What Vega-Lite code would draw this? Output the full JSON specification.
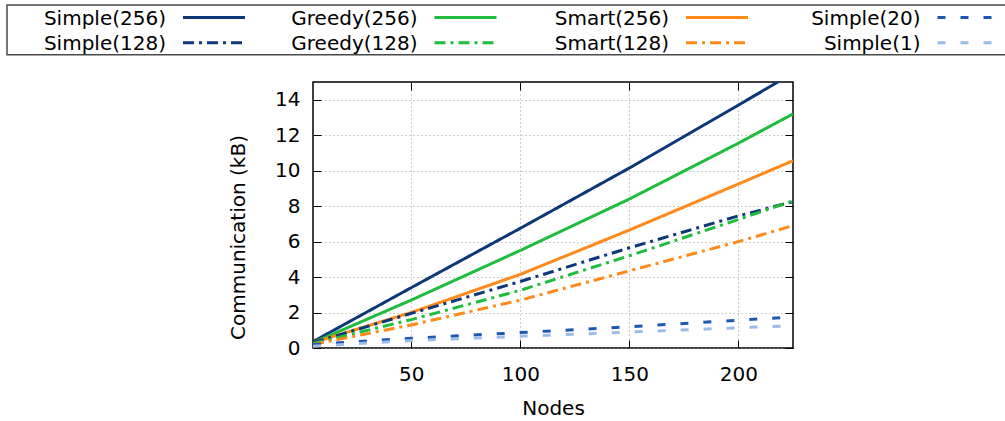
{
  "$schema": "https://vega.github.io/schema/vega-lite/v6.json",
  "width": 480,
  "height": 266,
  "autosize": {"type": "none"},
  "padding": {"left": 313, "top": 82, "right": 212, "bottom": 73},
  "background": "white",
  "config": {
    "font": "DejaVu Sans",
    "view": {"stroke": "black", "strokeWidth": 1.5},
    "axis": {
      "labelFont": "DejaVu Sans", "titleFont": "DejaVu Sans",
      "labelFontSize": 20, "titleFontSize": 20,
      "labelColor": "black", "titleColor": "black", "titleFontWeight": "normal",
      "domain": false, "tickColor": "black", "tickWidth": 1, "tickSize": -8,
      "gridColor": "#a0a0a0", "gridDash": [1, 3], "gridWidth": 1, "gridOpacity": 1
    }
  },
  "datasets": {
    "lines": [
      {"series": "Simple(256)", "nodes": 5, "kb": 0.36},
      {"series": "Simple(256)", "nodes": 50, "kb": 3.4},
      {"series": "Simple(256)", "nodes": 100, "kb": 6.75},
      {"series": "Simple(256)", "nodes": 150, "kb": 10.15},
      {"series": "Simple(256)", "nodes": 200, "kb": 13.7},
      {"series": "Simple(256)", "nodes": 225, "kb": 15.5},
      {"series": "Greedy(256)", "nodes": 5, "kb": 0.3},
      {"series": "Greedy(256)", "nodes": 50, "kb": 2.7},
      {"series": "Greedy(256)", "nodes": 100, "kb": 5.5},
      {"series": "Greedy(256)", "nodes": 150, "kb": 8.4},
      {"series": "Greedy(256)", "nodes": 200, "kb": 11.55},
      {"series": "Greedy(256)", "nodes": 225, "kb": 13.2},
      {"series": "Smart(256)", "nodes": 5, "kb": 0.3},
      {"series": "Smart(256)", "nodes": 50, "kb": 2.0},
      {"series": "Smart(256)", "nodes": 100, "kb": 4.15},
      {"series": "Smart(256)", "nodes": 150, "kb": 6.65},
      {"series": "Smart(256)", "nodes": 200, "kb": 9.25},
      {"series": "Smart(256)", "nodes": 225, "kb": 10.56},
      {"series": "Simple(128)", "nodes": 5, "kb": 0.3},
      {"series": "Simple(128)", "nodes": 50, "kb": 1.95},
      {"series": "Simple(128)", "nodes": 100, "kb": 3.75},
      {"series": "Simple(128)", "nodes": 150, "kb": 5.65},
      {"series": "Simple(128)", "nodes": 200, "kb": 7.45},
      {"series": "Simple(128)", "nodes": 225, "kb": 8.25},
      {"series": "Greedy(128)", "nodes": 5, "kb": 0.25},
      {"series": "Greedy(128)", "nodes": 50, "kb": 1.6},
      {"series": "Greedy(128)", "nodes": 100, "kb": 3.25},
      {"series": "Greedy(128)", "nodes": 150, "kb": 5.2},
      {"series": "Greedy(128)", "nodes": 200, "kb": 7.25},
      {"series": "Greedy(128)", "nodes": 225, "kb": 8.3},
      {"series": "Smart(128)", "nodes": 5, "kb": 0.2},
      {"series": "Smart(128)", "nodes": 50, "kb": 1.3},
      {"series": "Smart(128)", "nodes": 100, "kb": 2.7},
      {"series": "Smart(128)", "nodes": 150, "kb": 4.35},
      {"series": "Smart(128)", "nodes": 200, "kb": 6.0},
      {"series": "Smart(128)", "nodes": 225, "kb": 6.9},
      {"series": "Simple(20)", "nodes": 5, "kb": 0.2},
      {"series": "Simple(20)", "nodes": 50, "kb": 0.55},
      {"series": "Simple(20)", "nodes": 100, "kb": 0.87},
      {"series": "Simple(20)", "nodes": 150, "kb": 1.2},
      {"series": "Simple(20)", "nodes": 200, "kb": 1.57},
      {"series": "Simple(20)", "nodes": 225, "kb": 1.75},
      {"series": "Simple(1)", "nodes": 5, "kb": 0.1},
      {"series": "Simple(1)", "nodes": 50, "kb": 0.42},
      {"series": "Simple(1)", "nodes": 100, "kb": 0.66},
      {"series": "Simple(1)", "nodes": 150, "kb": 0.9},
      {"series": "Simple(1)", "nodes": 200, "kb": 1.14},
      {"series": "Simple(1)", "nodes": 225, "kb": 1.26}
    ],
    "legend": [
      {"series": "Simple(256)", "col": 0, "row": 0},
      {"series": "Greedy(256)", "col": 1, "row": 0},
      {"series": "Smart(256)", "col": 2, "row": 0},
      {"series": "Simple(20)", "col": 3, "row": 0},
      {"series": "Simple(128)", "col": 0, "row": 1},
      {"series": "Greedy(128)", "col": 1, "row": 1},
      {"series": "Smart(128)", "col": 2, "row": 1},
      {"series": "Simple(1)", "col": 3, "row": 1}
    ]
  },
  "layer": [
    {
      "data": {"name": "lines"},
      "mark": {"type": "line", "strokeWidth": 3, "clip": true},
      "encoding": {
        "x": {
          "field": "nodes", "type": "quantitative",
          "scale": {"domain": [5, 225], "nice": false, "zero": false},
          "axis": {"values": [50, 100, 150, 200], "title": "Nodes", "grid": true,
                   "labelPadding": 24, "titleX": 240, "titleY": 66,
                   "titleBaseline": "alphabetic", "titleAlign": "center"}
        },
        "y": {
          "field": "kb", "type": "quantitative",
          "scale": {"domain": [0, 15], "nice": false, "zero": false},
          "axis": {"values": [0, 2, 4, 6, 8, 10, 12, 14], "title": "Communication (kB)", "grid": true,
                   "labelPadding": 21, "titleX": -69, "titleY": 155, "titleAngle": -90,
                   "titleBaseline": "alphabetic", "titleAlign": "center"}
        },
        "color": {
          "field": "series", "type": "nominal", "legend": null,
          "scale": {
            "domain": ["Simple(256)", "Greedy(256)", "Smart(256)", "Simple(20)", "Simple(128)", "Greedy(128)", "Smart(128)", "Simple(1)"],
            "range": ["#0c3779", "#1fbd3c", "#ff8a1a", "#1b58b4", "#0c3779", "#1fbd3c", "#ff8a1a", "#9bbbe8"]
          }
        },
        "strokeDash": {
          "field": "series", "type": "nominal", "legend": null,
          "scale": {
            "domain": ["Simple(256)", "Greedy(256)", "Smart(256)", "Simple(20)", "Simple(128)", "Greedy(128)", "Smart(128)", "Simple(1)"],
            "range": [[1, 0], [1, 0], [1, 0], [8, 15], [11, 5, 3, 5], [11, 5, 3, 5], [11, 5, 3, 5], [8, 15]]
          }
        }
      }
    },
    {
      "data": {"name": "lines"},
      "mark": {"type": "point", "opacity": 0},
      "encoding": {
        "x": {
          "field": "nodes", "type": "quantitative",
          "scale": {"domain": [5, 225], "nice": false, "zero": false},
          "axis": {"orient": "top", "values": [50, 100, 150, 200], "labels": false, "title": null, "grid": false}
        },
        "y": {
          "field": "kb", "type": "quantitative",
          "scale": {"domain": [0, 15], "nice": false, "zero": false},
          "axis": {"orient": "right", "values": [0, 2, 4, 6, 8, 10, 12, 14], "labels": false, "title": null, "grid": false}
        }
      }
    },
    {
      "data": {"name": "legend"},
      "mark": {"type": "rect", "fill": null, "filled": false, "stroke": "#4a4a4a", "strokeWidth": 1.5,
               "xOffset": -176, "x2Offset": 75, "yOffset": -12.5, "y2Offset": 12, "clip": false},
      "encoding": {
        "x": {"aggregate": "min", "field": "col", "type": "quantitative",
              "scale": {"domain": [0, 3], "range": [-130, 624.5], "nice": false, "zero": false}, "axis": null},
        "x2": {"aggregate": "max", "field": "col"},
        "y": {"aggregate": "min", "field": "row", "type": "quantitative",
              "scale": {"domain": [0, 1], "range": [-64.5, -39.3], "nice": false, "zero": false}, "axis": null},
        "y2": {"aggregate": "max", "field": "row"}
      }
    },
    {
      "data": {"name": "legend"},
      "mark": {"type": "text", "align": "right", "baseline": "middle", "dx": -17, "dy": 1,
               "fontSize": 20, "font": "DejaVu Sans", "color": "black", "clip": false},
      "encoding": {
        "x": {"field": "col", "type": "quantitative",
              "scale": {"domain": [0, 3], "range": [-130, 624.5], "nice": false, "zero": false}, "axis": null},
        "y": {"field": "row", "type": "quantitative",
              "scale": {"domain": [0, 1], "range": [-64.5, -39.3], "nice": false, "zero": false}, "axis": null},
        "text": {"field": "series"}
      }
    },
    {
      "data": {"name": "legend"},
      "mark": {"type": "rule", "strokeWidth": 3, "x2Offset": 62, "clip": false},
      "encoding": {
        "x": {"field": "col", "type": "quantitative",
              "scale": {"domain": [0, 3], "range": [-130, 624.5], "nice": false, "zero": false}, "axis": null},
        "x2": {"field": "col"},
        "y": {"field": "row", "type": "quantitative",
              "scale": {"domain": [0, 1], "range": [-64.5, -39.3], "nice": false, "zero": false}, "axis": null},
        "color": {
          "field": "series", "type": "nominal", "legend": null,
          "scale": {
            "domain": ["Simple(256)", "Greedy(256)", "Smart(256)", "Simple(20)", "Simple(128)", "Greedy(128)", "Smart(128)", "Simple(1)"],
            "range": ["#0c3779", "#1fbd3c", "#ff8a1a", "#1b58b4", "#0c3779", "#1fbd3c", "#ff8a1a", "#9bbbe8"]
          }
        },
        "strokeDash": {
          "field": "series", "type": "nominal", "legend": null,
          "scale": {
            "domain": ["Simple(256)", "Greedy(256)", "Smart(256)", "Simple(20)", "Simple(128)", "Greedy(128)", "Smart(128)", "Simple(1)"],
            "range": [[1, 0], [1, 0], [1, 0], [8, 15], [11, 5, 3, 5], [11, 5, 3, 5], [11, 5, 3, 5], [8, 15]]
          }
        }
      }
    }
  ],
  "resolve": {"scale": {"x": "independent", "y": "independent"}}
}
